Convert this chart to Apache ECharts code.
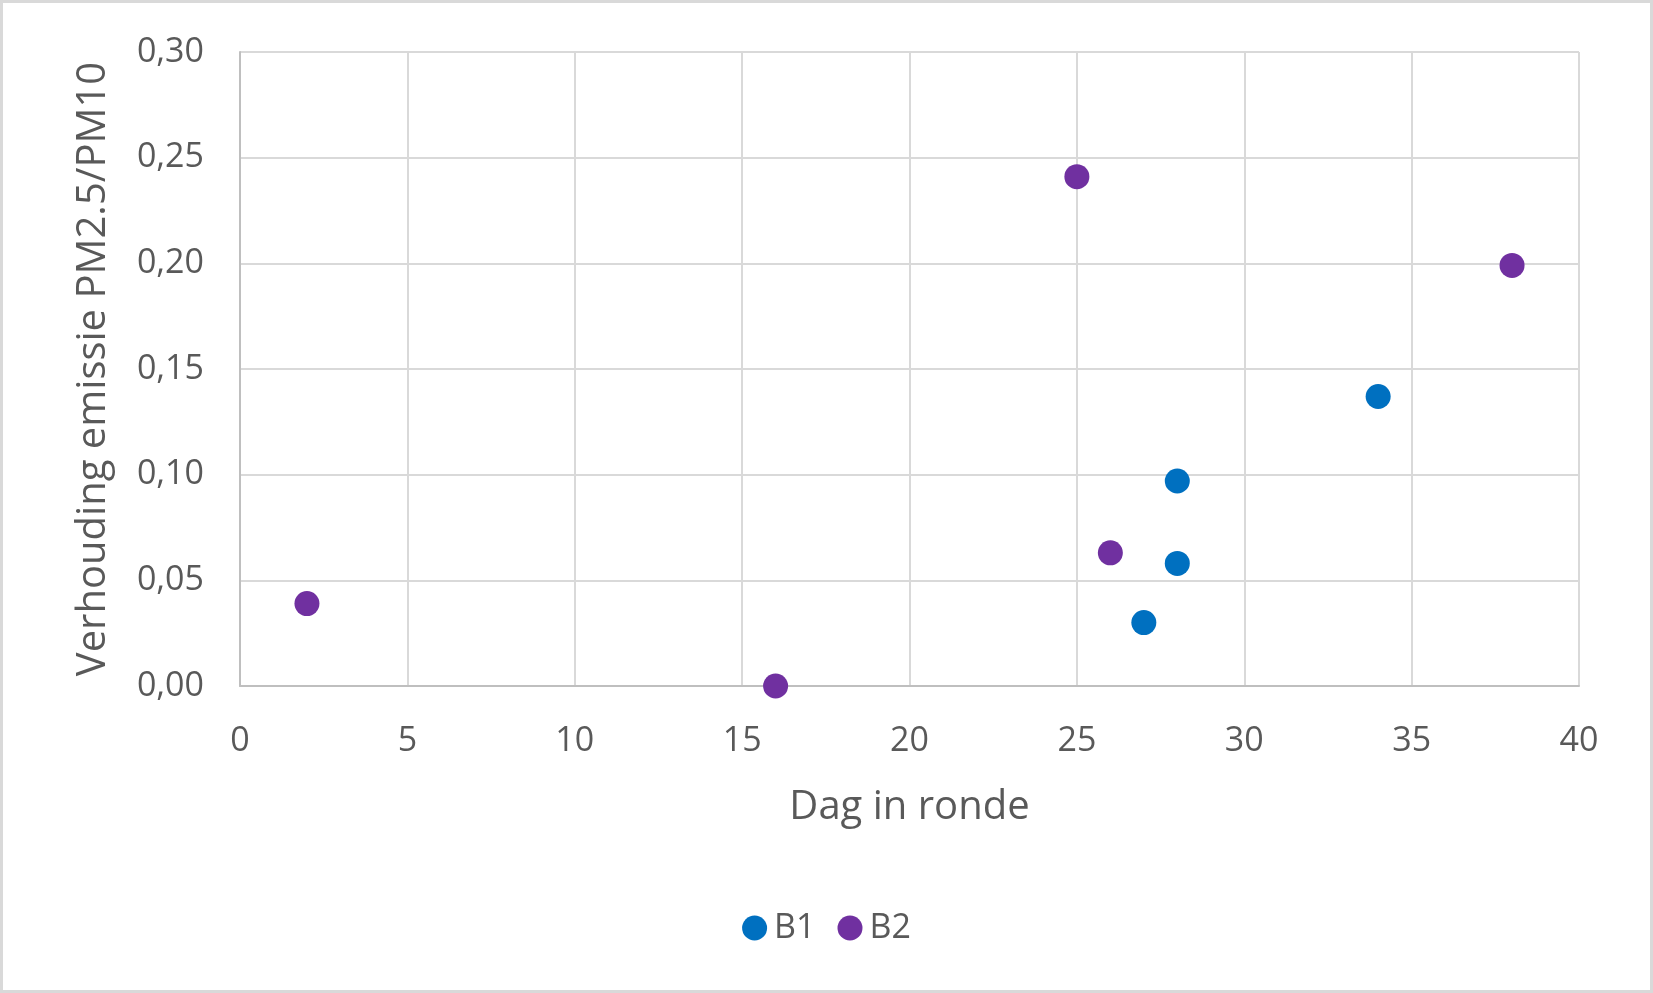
<!DOCTYPE html>
<html>
<head>
<meta charset="utf-8">
<script src="https://cdn.jsdelivr.net/npm/echarts@6/dist/echarts.min.js"></script>
<style>
html,body{margin:0;padding:0;background:#fff;}
#c{width:1653px;height:993px;box-sizing:border-box;border:3px solid #d9d9d9;}
</style>
</head>
<body>
<div id="c"></div>
<script>
const seriesNames = ['B1', 'B2'];
const b1Days = [27, 28, 28, 34];
const b1Values = [0.030, 0.058, 0.097, 0.137];
const b2Days = [2, 16, 25, 26, 38];
const b2Values = [0.039, 0.000, 0.241, 0.063, 0.199];
const xTicks = [0, 5, 10, 15, 20, 25, 30, 35, 40];
const yTicks = [0, 0.05, 0.10, 0.15, 0.20, 0.25, 0.30];
const colors = ['#0070C0', '#7030A0'];

const font = '"Open Sans", sans-serif';
const txt = '#595959';
const chart = echarts.init(document.getElementById('c'));
chart.setOption({
  animation: false,
  grid: {left: 237, right: 71, top: 49, bottom: 304, containLabel: false},
  legend: {
    data: seriesNames, bottom: 40, left: 'center', icon: 'circle',
    itemWidth: 25, itemHeight: 25, itemGap: 22,
    textStyle: {color: txt, fontSize: 34, fontFamily: font, padding: [0, 0, 0, 2]}
  },
  xAxis: {
    type: 'value', min: xTicks[0], max: xTicks[xTicks.length - 1], interval: 5,
    name: 'Dag in ronde', nameLocation: 'middle', nameGap: 102,
    nameTextStyle: {color: txt, fontSize: 40, fontFamily: font},
    axisLine: {show: true, lineStyle: {color: '#bfbfbf', width: 2}},
    axisTick: {show: false},
    axisLabel: {color: txt, fontSize: 34, fontFamily: font, margin: 38},
    splitLine: {show: true, lineStyle: {color: '#d9d9d9', width: 2}}
  },
  yAxis: {
    type: 'value', min: yTicks[0], max: yTicks[yTicks.length - 1], interval: 0.05,
    name: 'Verhouding emissie PM2.5/PM10', nameLocation: 'middle', nameGap: 126,
    nameTextStyle: {color: txt, fontSize: 40, fontFamily: font},
    axisLine: {show: true, lineStyle: {color: '#bfbfbf', width: 2}},
    axisTick: {show: false},
    axisLabel: {color: txt, fontSize: 34, fontFamily: font, margin: 36,
      formatter: v => v.toFixed(2).replace('.', ',')},
    splitLine: {show: true, lineStyle: {color: '#d9d9d9', width: 2}}
  },
  series: [
    {name: seriesNames[0], type: 'scatter', symbolSize: 25,
     itemStyle: {color: colors[0], opacity: 1},
     data: b1Days.map((d, i) => [d, b1Values[i]])},
    {name: seriesNames[1], type: 'scatter', symbolSize: 25,
     itemStyle: {color: colors[1], opacity: 1},
     data: b2Days.map((d, i) => [d, b2Values[i]])}
  ]
});
</script>
</body>
</html>
